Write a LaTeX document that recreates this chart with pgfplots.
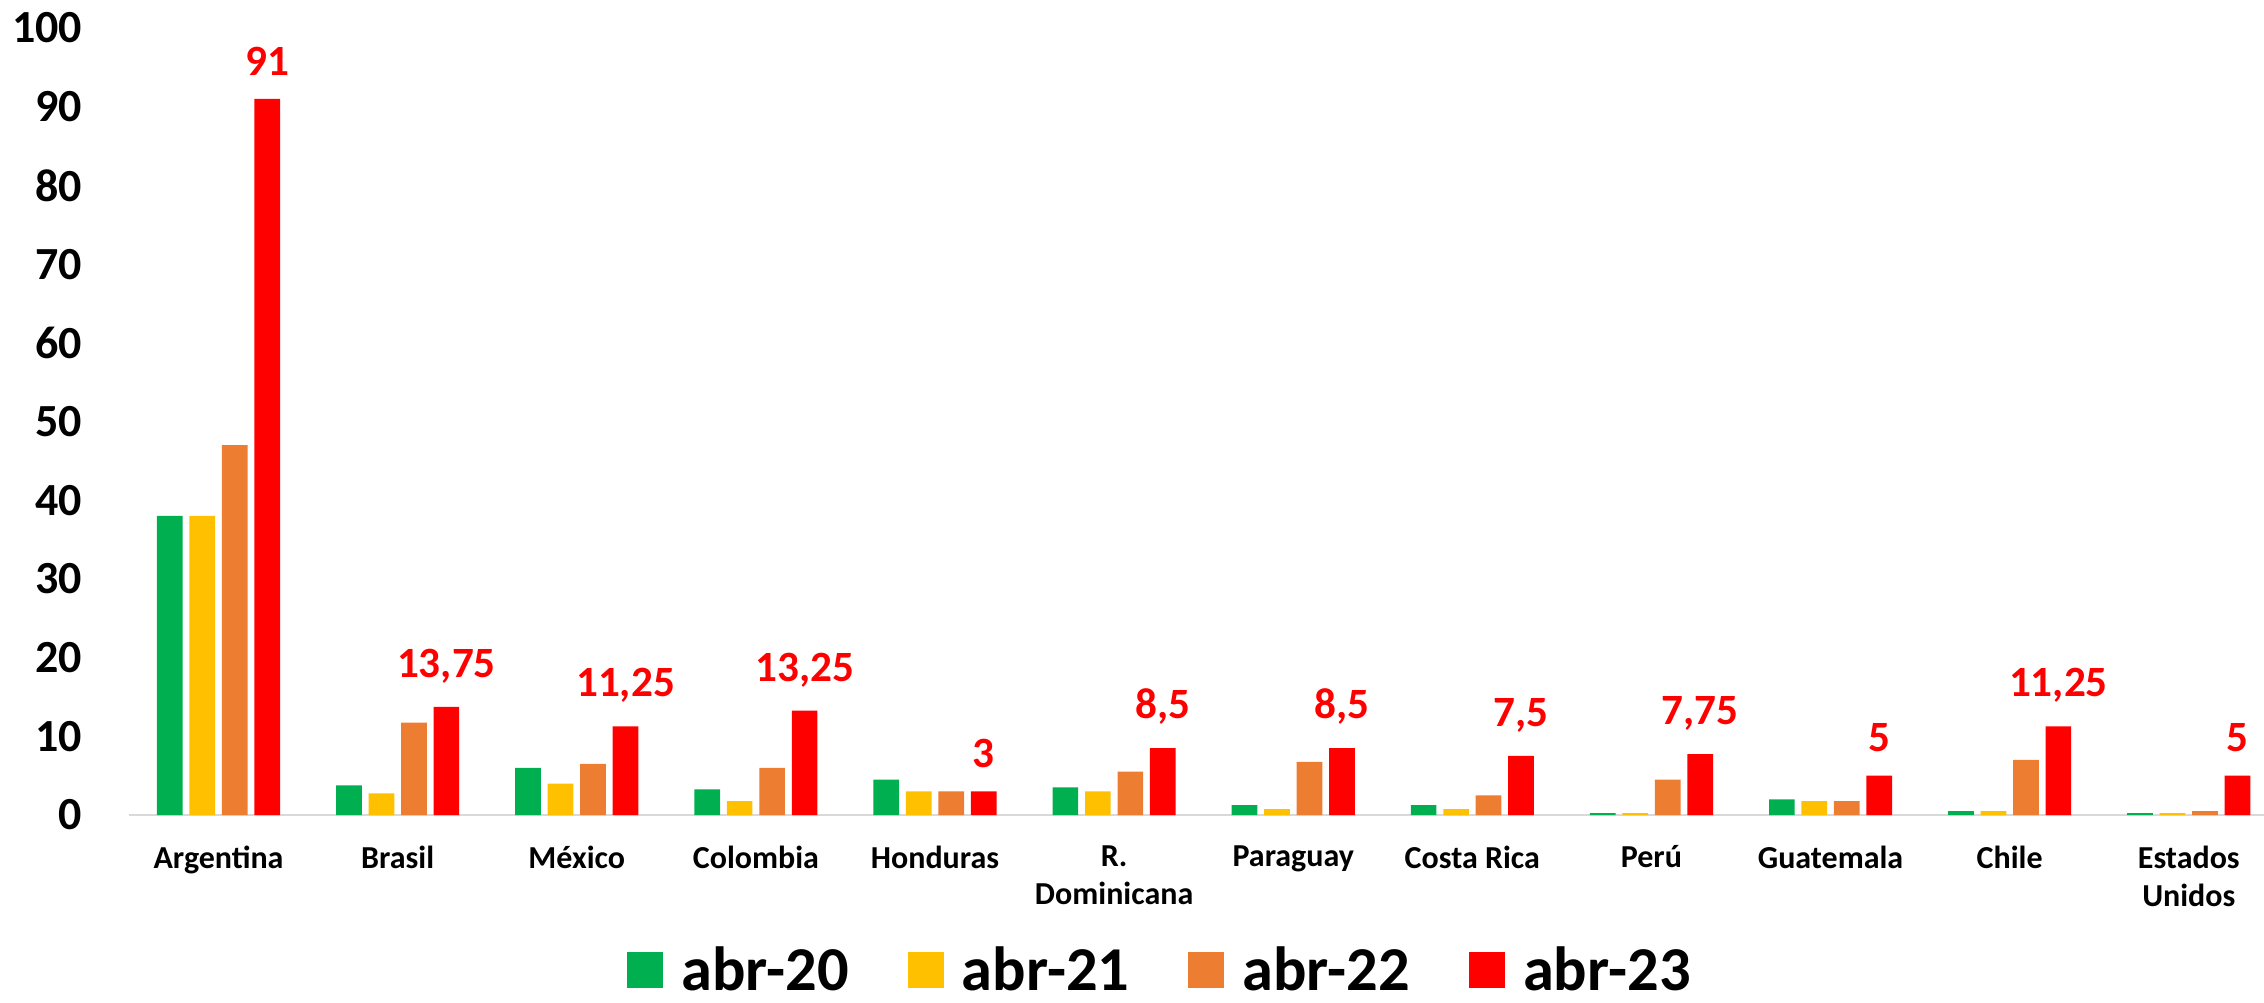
\documentclass[border=0pt]{standalone}
\usepackage{fontspec}
\setmainfont{Carlito}
\usepackage{pgfplots}
\pgfplotsset{compat=1.18}
\definecolor{cA}{HTML}{00B050}
\definecolor{cB}{HTML}{FFC000}
\definecolor{cC}{HTML}{ED7D31}
\definecolor{cD}{HTML}{FF0000}

\begin{document}
\begin{tikzpicture}
\begin{axis}[
    at={(0,0)}, anchor=south west,
    scale only axis,
    width=533.75bp, height=196.75bp,
    xmin=-0.5, xmax=11.42,
    ymin=0, ymax=100,
    ytick={0,10,...,100},
    xtick={0,...,11},
    xticklabels={Argentina, Brasil, México, Colombia, Honduras, {R.\\Dominicana},
        Paraguay, Costa Rica, Perú, Guatemala, Chile, {Estados\\Unidos}},
    major tick length=0pt,
    axis x line*=bottom, axis y line*=left,
    y axis line style={draw=none},
    x axis line style={draw=black!15, line width=0.7bp, -},
    /pgf/number format/assume math mode=true,
    /pgf/number format/use comma,
    /pgf/number format/fixed,
    /pgf/number format/precision=2,
    yticklabel style={font=\fontsize{11.5bp}{13bp}\selectfont\bfseries,
        inner sep=0pt, xshift=-11.5bp},
    xticklabel style={font=\fontsize{8bp}{9.5bp}\selectfont\bfseries,
        inner sep=0pt, yshift=-7.5bp, align=center, anchor=north},
    legend columns=4,
    legend cell align=left,
    legend image code/.code={\fill[#1] (0bp,0.5bp) rectangle (9bp,9.5bp);},
    legend style={draw=none, fill=none, inner sep=0pt,
        at={(axis description cs:0.4824,-0.2313)}, anchor=south,
        font=\fontsize{15.6bp}{18bp}\selectfont\bfseries,
        nodes={inner sep=0pt, anchor=base west},
        /tikz/every odd column/.append style={column sep=4.5bp},
        /tikz/every even column/.append style={column sep=14.75bp}},
]

% abr-20
\addplot[ybar, fill=cA, draw=none, bar width=0.1434, bar shift=-0.272]
coordinates {(0,38) (1,3.75) (2,6) (3,3.25) (4,4.5) (5,3.5)
             (6,1.25) (7,1.25) (8,0.25) (9,2) (10,0.5) (11,0.25)};
\addlegendentry{abr-20}

% abr-21
\addplot[ybar, fill=cB, draw=none, bar width=0.1434, bar shift=-0.0907]
coordinates {(0,38) (1,2.75) (2,4) (3,1.75) (4,3) (5,3)
             (6,0.75) (7,0.75) (8,0.25) (9,1.75) (10,0.5) (11,0.25)};
\addlegendentry{abr-21}

% abr-22
\addplot[ybar, fill=cC, draw=none, bar width=0.1434, bar shift=0.0907]
coordinates {(0,47) (1,11.75) (2,6.5) (3,6) (4,3) (5,5.5)
             (6,6.75) (7,2.5) (8,4.5) (9,1.75) (10,7) (11,0.5)};
\addlegendentry{abr-22}

% abr-23 (labels moved over the red bars by hand)
\addplot[ybar, fill=cD, draw=none, bar width=0.1434, bar shift=0.272,
    nodes near coords,
    nodes near coords style={text=cD, font=\fontsize{10.8bp}{12bp}\selectfont\bfseries,
        inner sep=0pt, anchor=south, xshift=12.19bp, yshift=5.75bp}]
coordinates {(0,91) (1,13.75) (2,11.25) (3,13.25) (4,3) (5,8.5)
             (6,8.5) (7,7.5) (8,7.75) (9,5) (10,11.25) (11,5)};
\addlegendentry{abr-23}

\end{axis}
\pgfresetboundingbox
\path (-32.25bp,-47bp) rectangle (533.75bp,203.75bp);
\end{tikzpicture}
\end{document}
